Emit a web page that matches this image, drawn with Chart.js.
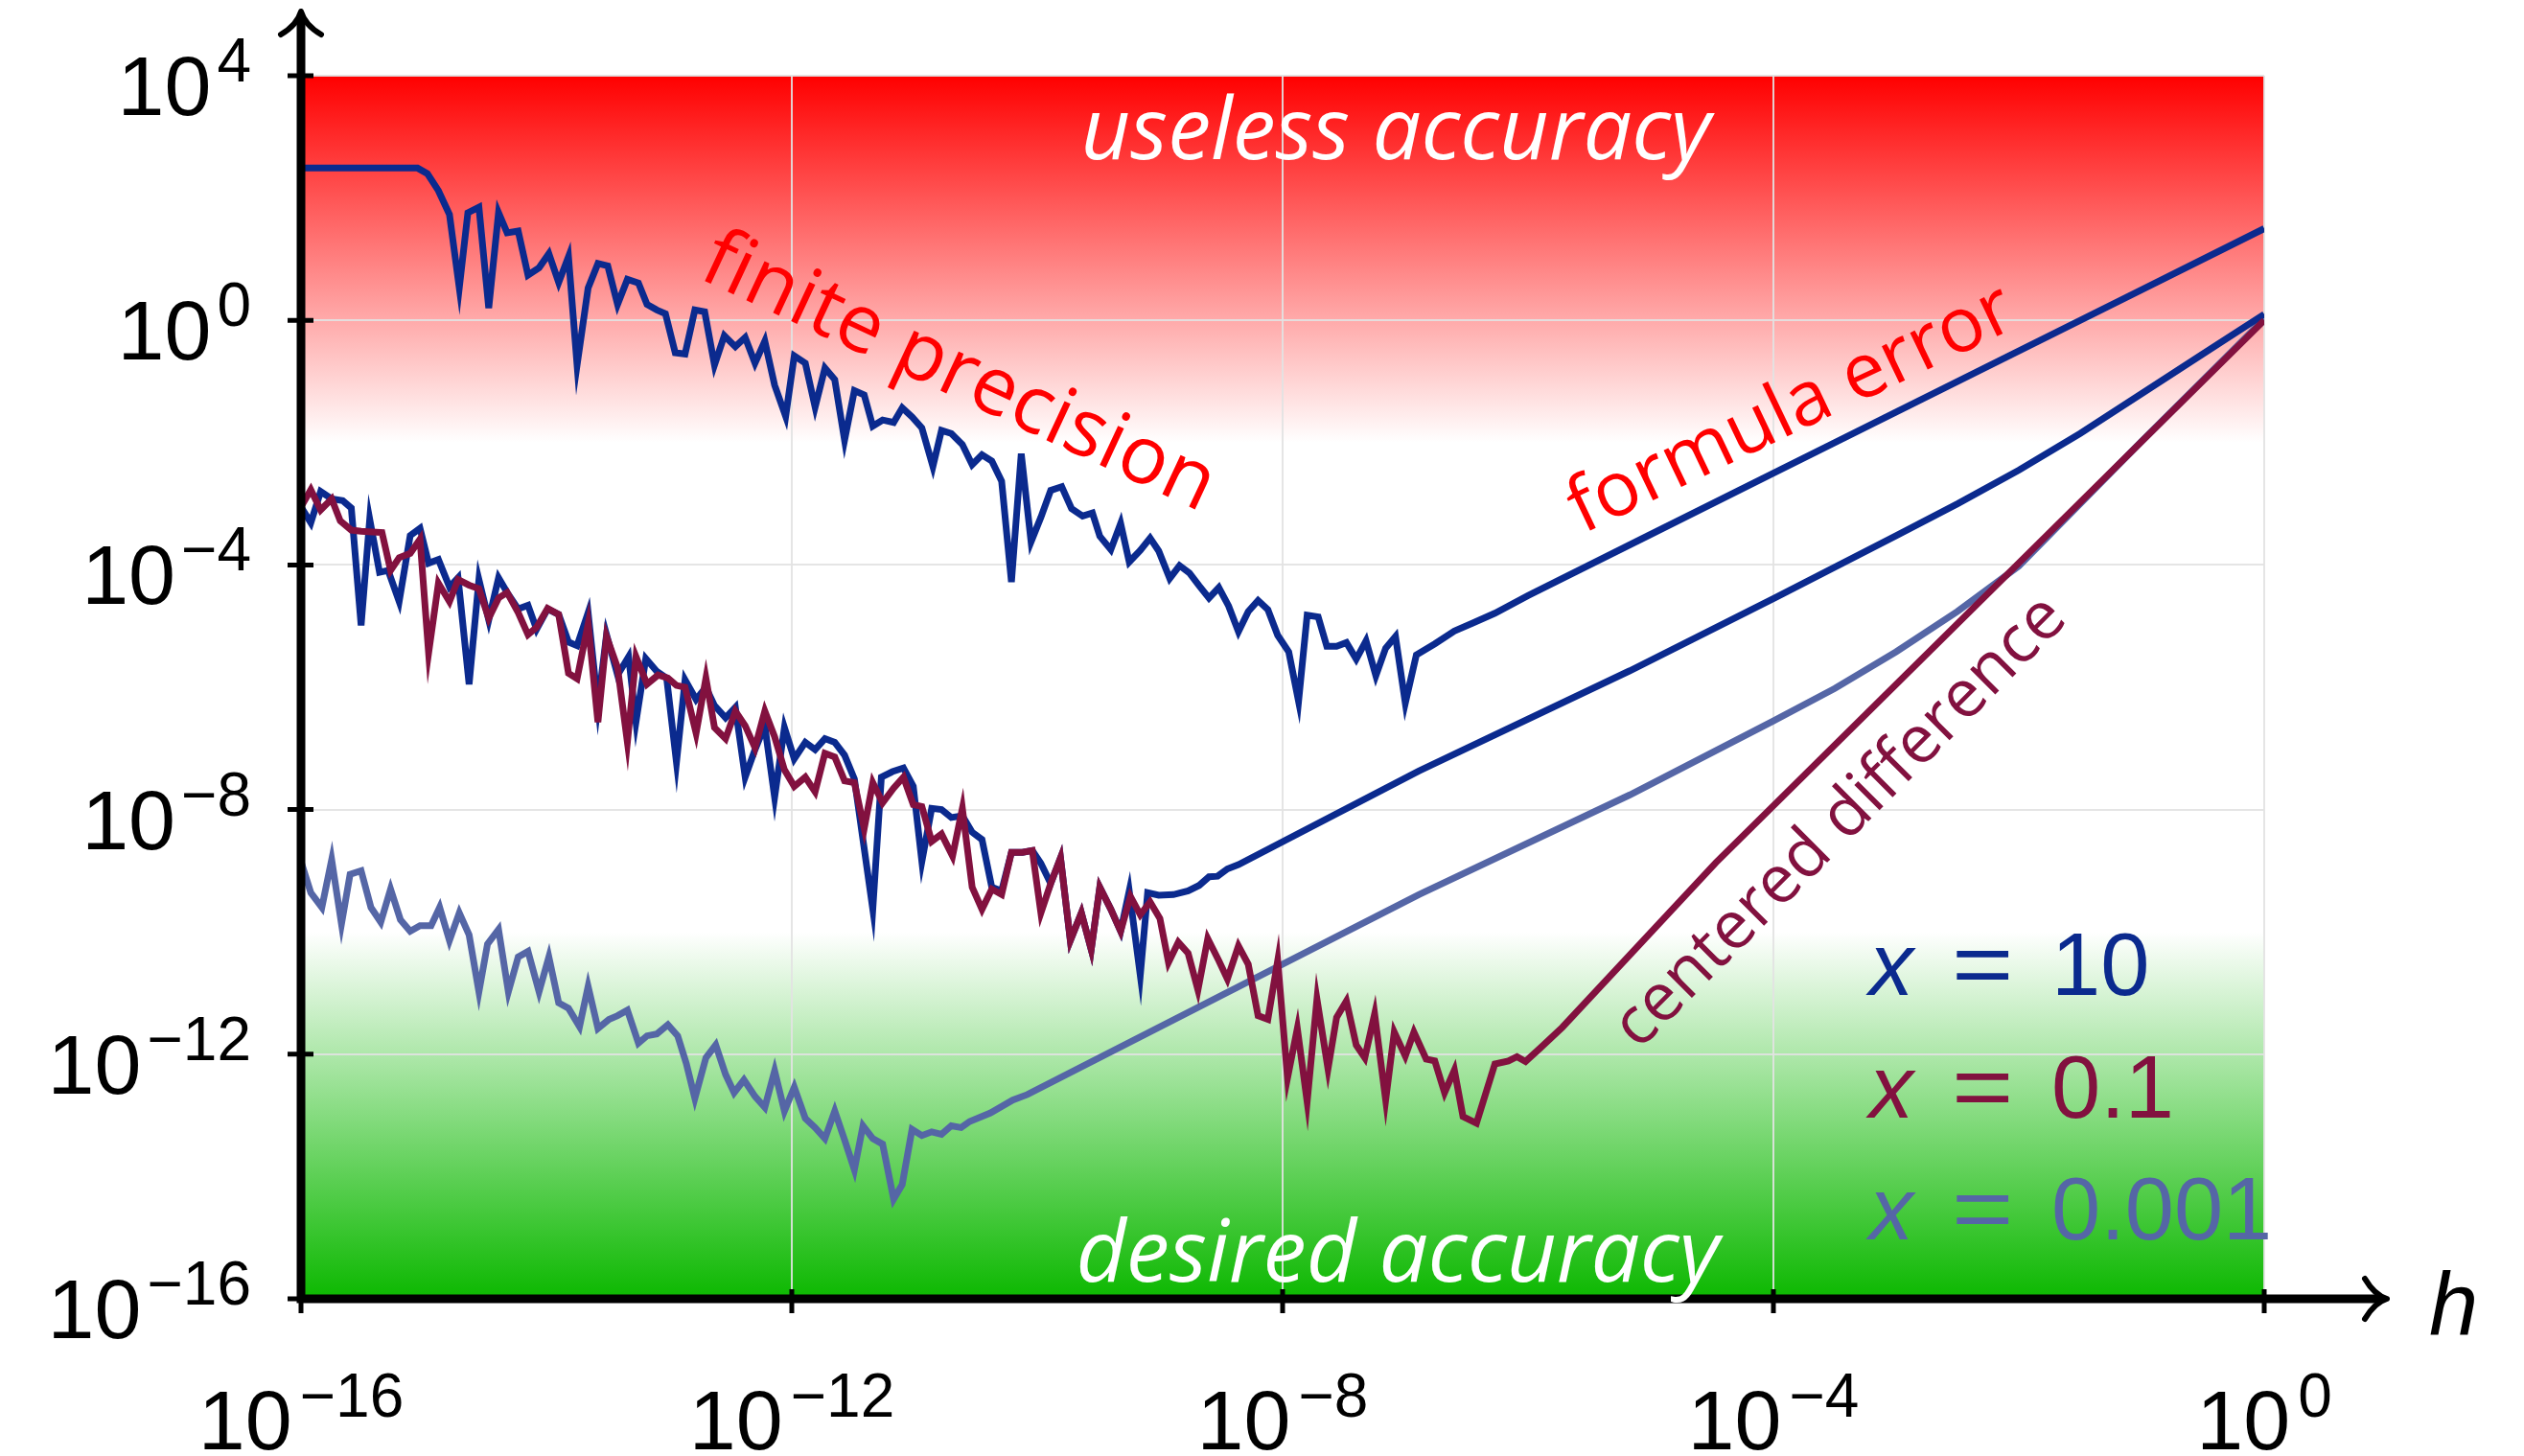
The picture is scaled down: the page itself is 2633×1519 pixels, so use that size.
<!DOCTYPE html>
<html>
<head>
<meta charset="utf-8">
<script src="https://cdn.jsdelivr.net/npm/chart.js@4.4.1/dist/chart.umd.min.js"></script>
<style>
  html, body { margin: 0; padding: 0; background: #fff; }
  #wrap { width: 2633px; height: 1519px; }
</style>
</head>
<body>
<div id="wrap"><canvas id="chart" width="2633" height="1519"></canvas></div>
<script>
// every number below is a log10 exponent: h along x, error along y
const xTickExps = [-16, -12, -8, -4, 0];
const yTickExps = [4, 0, -4, -8, -12, -16];

// shaded bands (log10 of the error)
const redBand = [4, -2];
const greenBand = [-10, -16];

// x = 10, upper curve
const upperH = [
  -16, -15.05, -14.97, -14.88, -14.79, -14.71, -14.64, -14.55, -14.47, -14.39,
  -14.32, -14.23, -14.15, -14.06, -13.98, -13.90, -13.82, -13.75, -13.66, -13.58,
  -13.50, -13.42, -13.34, -13.25, -13.18, -13.10, -13.03, -12.95, -12.87, -12.79,
  -12.71, -12.63, -12.55, -12.46, -12.38, -12.30, -12.22, -12.14, -12.05, -11.98,
  -11.89, -11.81, -11.73, -11.65, -11.57, -11.49, -11.41, -11.34, -11.26, -11.17,
  -11.10, -11.02, -10.94, -10.85, -10.78, -10.70, -10.61, -10.53, -10.45, -10.37,
  -10.29, -10.21, -10.13, -10.05, -9.97, -9.89, -9.80, -9.72, -9.63, -9.55,
  -9.49, -9.40, -9.32, -9.25, -9.16, -9.08, -9.01, -8.92, -8.84, -8.76,
  -8.68, -8.60, -8.52, -8.44, -8.36, -8.28, -8.20, -8.12, -8.04, -7.95,
  -7.87, -7.80, -7.71, -7.64, -7.56, -7.48, -7.40, -7.32, -7.24, -7.16,
  -7.08, -7.00, -6.91, -6.76, -6.60, -6.45, -6.27, -6.00, -5.00, -4.00,
  -3.00, -2.00, -1.00, 0
];
const upperErr = [
  2.49, 2.49, 2.40, 2.12, 1.73, 0.53, 1.76, 1.85, 0.20, 1.76,
  1.43, 1.46, 0.74, 0.86, 1.09, 0.62, 1.04, -0.73, 0.53, 0.93,
  0.89, 0.26, 0.67, 0.61, 0.26, 0.17, 0.11, -0.53, -0.55, 0.17,
  0.14, -0.73, -0.25, -0.43, -0.28, -0.70, -0.34, -1.06, -1.57, -0.58,
  -0.70, -1.42, -0.78, -0.97, -1.96, -1.15, -1.22, -1.73, -1.63, -1.67,
  -1.43, -1.58, -1.76, -2.39, -1.80, -1.85, -2.03, -2.36, -2.20, -2.30,
  -2.63, -4.28, -2.18, -3.62, -3.22, -2.78, -2.72, -3.08, -3.20, -3.15,
  -3.53, -3.75, -3.32, -3.95, -3.76, -3.56, -3.77, -4.22, -4.01, -4.13,
  -4.34, -4.54, -4.37, -4.67, -5.09, -4.76, -4.58, -4.73, -5.15, -5.42,
  -6.23, -4.82, -4.85, -5.33, -5.33, -5.27, -5.54, -5.24, -5.81, -5.36,
  -5.17, -6.26, -5.47, -5.29, -5.08, -4.95, -4.79, -4.50, -3.50, -2.50,
  -1.50, -0.50, 0.50, 1.50
];

// x = 10, lower curve
const lowerH = [
  -16.00, -15.92, -15.84, -15.75, -15.66, -15.59, -15.51, -15.44, -15.36, -15.29,
  -15.20, -15.11, -15.03, -14.96, -14.88, -14.79, -14.72, -14.63, -14.55, -14.47,
  -14.39, -14.32, -14.23, -14.15, -14.08, -13.99, -13.90, -13.82, -13.75, -13.66,
  -13.58, -13.51, -13.42, -13.33, -13.27, -13.19, -13.10, -13.02, -12.94, -12.87,
  -12.78, -12.70, -12.63, -12.54, -12.46, -12.38, -12.30, -12.22, -12.14, -12.06,
  -11.98, -11.89, -11.81, -11.73, -11.65, -11.57, -11.49, -11.34, -11.27, -11.18,
  -11.09, -11.01, -10.94, -10.86, -10.78, -10.70, -10.61, -10.53, -10.45, -10.37,
  -10.29, -10.21, -10.12, -10.04, -9.97, -9.89, -9.81, -9.73, -9.64, -9.56,
  -9.49, -9.40, -9.32, -9.25, -9.16, -9.10, -9.01, -8.89, -8.77, -8.68,
  -8.60, -8.53, -8.45, -8.36, -6.89, -5.17, -3.99, -3.00, -2.50, -2.00,
  -1.50, -1.00, -0.50, 0
];
const lowerErr = [
  -3.05, -3.31, -2.80, -2.92, -2.95, -3.07, -4.99, -3.25, -4.12, -4.09,
  -4.60, -3.52, -3.40, -3.97, -3.91, -4.36, -4.21, -5.95, -4.24, -4.90,
  -4.21, -4.45, -4.72, -4.66, -5.05, -4.72, -4.81, -5.26, -5.32, -4.78,
  -6.30, -5.14, -5.80, -5.50, -6.57, -5.53, -5.74, -5.85, -7.23, -5.88,
  -6.20, -6.00, -6.30, -6.50, -6.33, -7.47, -7.02, -6.63, -7.80, -6.66,
  -7.17, -6.90, -7.02, -6.84, -6.90, -7.11, -7.50, -9.63, -7.47, -7.38,
  -7.32, -7.62, -8.85, -7.98, -8.00, -8.13, -8.10, -8.37, -8.49, -9.27,
  -9.33, -8.70, -8.70, -8.67, -8.88, -9.21, -8.79, -10.14, -9.69, -10.29,
  -9.27, -9.63, -9.99, -9.33, -10.71, -9.36, -9.40, -9.39, -9.33, -9.24,
  -9.10, -9.09, -8.97, -8.90, -7.37, -5.73, -4.54, -3.52, -3.00, -2.45,
  -1.85, -1.20, -0.55, 0.10
];

// x = 0.1 (centered difference)
const centH = [
  -16.00, -15.92, -15.84, -15.75, -15.68, -15.59, -15.51, -15.42, -15.34, -15.27,
  -15.20, -15.11, -15.03, -14.96, -14.88, -14.79, -14.72, -14.63, -14.55, -14.47,
  -14.39, -14.32, -14.23, -14.15, -14.08, -13.99, -13.90, -13.82, -13.75, -13.66,
  -13.58, -13.51, -13.42, -13.34, -13.27, -13.18, -13.09, -13.01, -12.94, -12.87,
  -12.78, -12.70, -12.63, -12.54, -12.46, -12.38, -12.30, -12.22, -12.14, -12.06,
  -11.98, -11.89, -11.81, -11.73, -11.65, -11.57, -11.49, -11.41, -11.34, -11.26,
  -11.17, -11.09, -11.01, -10.94, -10.86, -10.78, -10.69, -10.61, -10.53, -10.45,
  -10.37, -10.29, -10.21, -10.12, -10.04, -9.97, -9.89, -9.81, -9.73, -9.64,
  -9.56, -9.49, -9.40, -9.32, -9.24, -9.16, -9.08, -9.00, -8.93, -8.85,
  -8.77, -8.69, -8.61, -8.52, -8.45, -8.36, -8.28, -8.20, -8.12, -8.04,
  -7.96, -7.88, -7.80, -7.72, -7.63, -7.56, -7.48, -7.40, -7.33, -7.25,
  -7.16, -7.09, -7.00, -6.93, -6.83, -6.76, -6.68, -6.60, -6.53, -6.42,
  -6.27, -6.16, -6.09, -6.02, -5.90, -5.72, -4.47, 0
];
const centErr = [
  -3.05, -2.77, -3.10, -2.92, -3.28, -3.43, -3.45, -3.46, -3.47, -4.09,
  -3.88, -3.81, -3.58, -5.44, -4.30, -4.60, -4.24, -4.33, -4.39, -4.87,
  -4.54, -4.45, -4.78, -5.14, -5.02, -4.71, -4.81, -5.77, -5.86, -4.96,
  -6.57, -5.17, -5.68, -6.90, -5.50, -5.95, -5.80, -5.85, -5.97, -6.00,
  -6.75, -5.85, -6.66, -6.84, -6.39, -6.63, -6.99, -6.39, -6.81, -7.35,
  -7.62, -7.47, -7.71, -7.08, -7.14, -7.53, -7.56, -8.31, -7.56, -7.89,
  -7.65, -7.47, -7.92, -7.95, -8.52, -8.40, -8.76, -7.98, -9.27, -9.63,
  -9.30, -9.39, -8.70, -8.70, -8.67, -9.69, -9.21, -8.79, -10.14, -9.69,
  -10.29, -9.27, -9.63, -9.99, -9.42, -9.72, -9.51, -9.78, -10.50, -10.17,
  -10.35, -10.95, -10.11, -10.47, -10.77, -10.23, -10.53, -11.37, -11.43, -10.47,
  -12.39, -11.58, -12.78, -11.10, -12.24, -11.40, -11.13, -11.85, -12.06, -11.34,
  -12.75, -11.64, -12.03, -11.64, -12.08, -12.11, -12.63, -12.26, -13.02, -13.13,
  -12.16, -12.11, -12.04, -12.12, -11.90, -11.56, -8.87, 0.00
];

// x = 0.001
const smallH = [
  -16.00, -15.92, -15.83, -15.75, -15.67, -15.60, -15.51, -15.43, -15.35, -15.27,
  -15.19, -15.11, -15.03, -14.94, -14.87, -14.79, -14.71, -14.63, -14.55, -14.48,
  -14.39, -14.31, -14.23, -14.15, -14.06, -13.98, -13.90, -13.82, -13.73, -13.66,
  -13.58, -13.49, -13.42, -13.34, -13.25, -13.18, -13.10, -13.01, -12.93, -12.86,
  -12.79, -12.70, -12.62, -12.54, -12.47, -12.39, -12.30, -12.22, -12.14, -12.06,
  -11.98, -11.89, -11.81, -11.73, -11.65, -11.57, -11.49, -11.42, -11.34, -11.26,
  -11.17, -11.10, -11.02, -10.94, -10.86, -10.78, -10.70, -10.62, -10.55, -10.38,
  -10.20, -10.08, -6.89, -5.17, -4.00, -3.50, -3.00, -2.50, -2.00, -1.00,
  0
];
const smallErr = [
  -8.85, -9.36, -9.60, -8.82, -9.87, -9.06, -9.00, -9.60, -9.84, -9.30,
  -9.80, -9.99, -9.90, -9.90, -9.60, -10.14, -9.69, -10.05, -10.98, -10.20,
  -9.96, -10.98, -10.41, -10.32, -10.98, -10.41, -11.16, -11.25, -11.55, -10.89,
  -11.58, -11.43, -11.37, -11.28, -11.82, -11.70, -11.67, -11.52, -11.70, -12.15,
  -12.72, -12.06, -11.85, -12.33, -12.63, -12.42, -12.69, -12.87, -12.27, -12.93,
  -12.54, -13.05, -13.20, -13.38, -12.93, -13.40, -13.89, -13.17, -13.38, -13.47,
  -14.37, -14.13, -13.23, -13.33, -13.27, -13.31, -13.17, -13.20, -13.10, -12.96,
  -12.75, -12.66, -9.39, -7.76, -6.55, -6.02, -5.42, -4.76, -4.02, -1.98,
  0.02
];

const legendValues = ['10', '0.1', '0.001'];

const DARK_BLUE = '#0b2a8e';
const MAROON = '#82113f';
const SLATE = '#5566a6';
const LEGEND_COLORS = [DARK_BLUE, MAROON, SLATE];

const TICK_FONT = '"Liberation Sans", Arial, sans-serif';
const LABEL_FONT = '"Open Sans", "Noto Sans", sans-serif';

function toPoints(hs, errs) {
  return hs.map((h, i) => ({ x: Math.pow(10, h), y: Math.pow(10, errs[i]) }));
}

function supText(exp) {
  return exp < 0 ? '\u2212' + Math.abs(exp) : String(exp);
}

// font size that makes text span the given width
function fitSize(ctx, text, style, width) {
  ctx.font = `${style} 100px ${LABEL_FONT}`;
  return 100 * width / ctx.measureText(text).width;
}

const bandsPlugin = {
  id: 'bands',
  beforeDraw(chart) {
    const { ctx, chartArea: a, scales: { y } } = chart;
    ctx.save();
    ctx.fillStyle = '#fff';
    ctx.fillRect(0, 0, chart.width, chart.height);

    const r0 = y.getPixelForValue(Math.pow(10, redBand[0]));
    const r1 = y.getPixelForValue(Math.pow(10, redBand[1]));
    const red = ctx.createLinearGradient(0, r0, 0, r1);
    red.addColorStop(0, 'rgb(255,0,0)');
    red.addColorStop(1, 'rgb(255,255,255)');
    ctx.fillStyle = red;
    ctx.fillRect(a.left, r0, a.right - a.left, r1 - r0);

    const g0 = y.getPixelForValue(Math.pow(10, greenBand[0]));
    const g1 = y.getPixelForValue(Math.pow(10, greenBand[1]));
    const green = ctx.createLinearGradient(0, g0, 0, g1);
    green.addColorStop(0, 'rgb(255,255,255)');
    green.addColorStop(1, 'rgb(12,184,0)');
    ctx.fillStyle = green;
    ctx.fillRect(a.left, g0, a.right - a.left, g1 - g0);
    ctx.restore();
  }
};

const decorPlugin = {
  id: 'decor',
  afterDraw(chart) {
    const { ctx, chartArea: a, scales: { x, y } } = chart;
    ctx.save();

    // axes with arrow heads
    ctx.strokeStyle = '#000';
    ctx.lineWidth = 9;
    ctx.lineCap = 'butt';
    ctx.beginPath();
    ctx.moveTo(a.left, a.bottom + 4.5);
    ctx.lineTo(a.left, 16);
    ctx.moveTo(a.left - 4.5, a.bottom);
    ctx.lineTo(2485, a.bottom);
    ctx.stroke();

    ctx.lineWidth = 6;
    ctx.lineCap = 'round';
    ctx.lineJoin = 'round';
    ctx.beginPath();
    ctx.moveTo(a.left - 21, 36);
    ctx.quadraticCurveTo(a.left - 4, 26, a.left, 12);
    ctx.quadraticCurveTo(a.left + 4, 26, a.left + 21, 36);
    ctx.moveTo(2467, a.bottom - 21);
    ctx.quadraticCurveTo(2477, a.bottom - 4, 2490, a.bottom);
    ctx.quadraticCurveTo(2477, a.bottom + 4, 2467, a.bottom + 21);
    ctx.stroke();

    // tick marks
    ctx.lineWidth = 5;
    ctx.lineCap = 'butt';
    ctx.beginPath();
    yTickExps.forEach(e => {
      const py = y.getPixelForValue(Math.pow(10, e));
      ctx.moveTo(a.left - 14, py);
      ctx.lineTo(a.left + 13, py);
    });
    xTickExps.forEach(e => {
      const px = x.getPixelForValue(Math.pow(10, e));
      ctx.moveTo(px, a.bottom - 10);
      ctx.lineTo(px, a.bottom + 15);
    });
    ctx.stroke();

    // tick labels 10^k
    ctx.fillStyle = '#000';
    ctx.textBaseline = 'alphabetic';
    yTickExps.forEach(e => {
      const py = y.getPixelForValue(Math.pow(10, e));
      const sup = supText(e);
      ctx.textAlign = 'right';
      ctx.font = `64px ${TICK_FONT}`;
      ctx.fillText(sup, a.left - 52, py + 6);
      const sw = ctx.measureText(sup).width;
      ctx.font = `88px ${TICK_FONT}`;
      ctx.fillText('10', a.left - 52 - sw - 6, py + 41);
    });
    xTickExps.forEach(e => {
      const px = x.getPixelForValue(Math.pow(10, e));
      const sup = supText(e);
      ctx.font = `88px ${TICK_FONT}`;
      const bw = ctx.measureText('10').width;
      ctx.font = `64px ${TICK_FONT}`;
      const sw = ctx.measureText(sup).width;
      const left = px - (bw + 8 + sw) / 2;
      ctx.textAlign = 'left';
      ctx.font = `88px ${TICK_FONT}`;
      ctx.fillText('10', left, a.bottom + 157);
      ctx.font = `64px ${TICK_FONT}`;
      ctx.fillText(sup, left + bw + 8, a.bottom + 123);
    });

    // axis name
    ctx.textAlign = 'left';
    ctx.font = `italic 92px ${TICK_FONT}`;
    ctx.fillText('h', 2534, 1392);

    // region labels
    ctx.textAlign = 'center';
    ctx.fillStyle = '#fff';
    let s = fitSize(ctx, 'useless accuracy', 'italic', 657);
    ctx.font = `italic ${s}px ${LABEL_FONT}`;
    ctx.fillText('useless accuracy', 1456, 166);
    s = fitSize(ctx, 'desired accuracy', 'italic', 671);
    ctx.font = `italic ${s}px ${LABEL_FONT}`;
    ctx.fillText('desired accuracy', 1458, 1337);

    const rotated = [
      { text: 'finite precision', color: '#ff0000', cx: 1000, cy: 390, angle: 25, width: 580 },
      { text: 'formula error', color: '#ff0000', cx: 1869, cy: 428, angle: -25.5, width: 505 },
      { text: 'centered difference', color: MAROON, cx: 1920, cy: 858, angle: -45, width: 635 }
    ];
    rotated.forEach(l => {
      const size = fitSize(ctx, l.text, 'normal', l.width);
      ctx.save();
      ctx.translate(l.cx, l.cy);
      ctx.rotate(l.angle * Math.PI / 180);
      ctx.font = `${size}px ${LABEL_FONT}`;
      ctx.fillStyle = l.color;
      ctx.textAlign = 'center';
      ctx.textBaseline = 'middle';
      ctx.fillText(l.text, 0, 0);
      ctx.restore();
    });

    // legend written inside the plot
    ctx.textAlign = 'left';
    ctx.textBaseline = 'alphabetic';
    legendValues.forEach((v, i) => {
      const base = 1038 + i * 127.5;
      ctx.fillStyle = LEGEND_COLORS[i];
      ctx.font = `italic 92px ${TICK_FONT}`;
      ctx.fillText('x', 1950, base);
      ctx.font = `92px ${TICK_FONT}`;
      ctx.save();
      ctx.translate(2036, base);
      ctx.scale(1.2, 1);
      ctx.fillText('=', 0, 0);
      ctx.restore();
      ctx.fillText(v, 2140, base);
    });

    ctx.restore();
  }
};

const lineStyle = { borderWidth: 7, pointRadius: 0, tension: 0, borderJoinStyle: 'miter', fill: false };

new Chart(document.getElementById('chart'), {
  type: 'line',
  data: {
    datasets: [
      { label: 'x = 0.1', data: toPoints(centH, centErr), borderColor: MAROON, ...lineStyle },
      { label: 'x = 10', data: toPoints(upperH, upperErr), borderColor: DARK_BLUE, ...lineStyle },
      { label: 'x = 10 (lower)', data: toPoints(lowerH, lowerErr), borderColor: DARK_BLUE, ...lineStyle },
      { label: 'x = 0.001', data: toPoints(smallH, smallErr), borderColor: SLATE, ...lineStyle }
    ]
  },
  options: {
    responsive: false,
    animation: false,
    devicePixelRatio: 1,
    layout: { padding: { left: 314, right: 271, top: 79, bottom: 164 } },
    plugins: { legend: { display: false }, tooltip: { enabled: false } },
    scales: {
      x: {
        type: 'logarithmic',
        min: Math.pow(10, xTickExps[0]),
        max: Math.pow(10, xTickExps[xTickExps.length - 1]),
        ticks: { display: false, autoSkip: false },
        grid: { color: 'rgba(226,226,226,0.9)', lineWidth: 2, drawTicks: false },
        border: { display: false },
        afterBuildTicks: s => { s.ticks = xTickExps.map(e => ({ value: Math.pow(10, e) })); },
        afterFit: s => { s.height = 0; }
      },
      y: {
        type: 'logarithmic',
        min: Math.pow(10, yTickExps[yTickExps.length - 1]),
        max: Math.pow(10, yTickExps[0]),
        ticks: { display: false, autoSkip: false },
        grid: { color: 'rgba(226,226,226,0.9)', lineWidth: 2, drawTicks: false },
        border: { display: false },
        afterBuildTicks: s => { s.ticks = yTickExps.map(e => ({ value: Math.pow(10, e) })); },
        afterFit: s => { s.width = 0; }
      }
    }
  },
  plugins: [bandsPlugin, decorPlugin]
});
</script>
</body>
</html>
